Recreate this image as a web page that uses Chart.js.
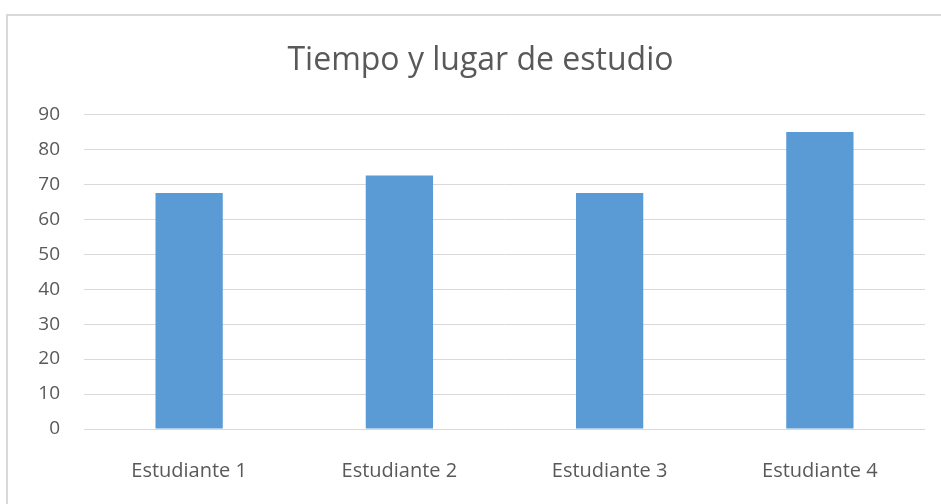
<!DOCTYPE html>
<html>
<head>
<meta charset="utf-8">
<script src="https://cdn.jsdelivr.net/npm/chart.js@4"></script>
<style>
  body { margin: 0; background: #fff; }
  #frame { position: absolute; left: 6px; top: 14px; width: 960px; height: 520px; border: 2px solid #d9d9d9; }
  #wrap { position: absolute; left: 0; top: 0; width: 941px; height: 504px; }
</style>
</head>
<body>
<div id="frame"></div>
<div id="wrap"><canvas id="myChart"></canvas></div>
<script>
// data===========
const students = ["Estudiante 1", "Estudiante 2", "Estudiante 3", "Estudiante 4"];
const values = [67.5, 72.5, 67.5, 85];
const chartTitle = "Tiempo y lugar de estudio";
// end data===========

const ctx = document.getElementById("myChart").getContext("2d");

const myChart = new Chart(ctx, {
  type: "bar",
  data: {
    labels: students,
    datasets: [
      {
        data: values,
        backgroundColor: "#5B9BD5",
        barPercentage: 0.32,
        categoryPercentage: 1,
      },
    ],
  },
  options: {
    responsive: true,
    maintainAspectRatio: false,
    animation: false,
    layout: { padding: { left: 36, right: 16, top: 0, bottom: 0 } },
    plugins: {
      legend: { display: false },
      tooltip: { enabled: false },
      title: {
        display: true,
        text: chartTitle,
        color: "#595959",
        font: { family: "Open Sans", size: 32, weight: "normal", lineHeight: 1.2 },
        padding: { top: 42, bottom: 34 },
      },
    },
    scales: {
      x: {
        grid: { display: false },
        border: { display: false },
        ticks: {
          color: "#595959",
          font: { family: "Open Sans", size: 20 },
          padding: 22,
        },
        afterFit: (scale) => { scale.height = 75; },
      },
      y: {
        min: 0,
        max: 90,
        grid: { color: "#D9D9D9", lineWidth: 1, drawTicks: false },
        border: { display: false },
        ticks: {
          stepSize: 10,
          color: "#595959",
          font: { family: "Open Sans", size: 19 },
          padding: 24,
        },
        afterFit: (scale) => { scale.width = 48; },
      },
    },
  },
});
</script>
</body>
</html>
